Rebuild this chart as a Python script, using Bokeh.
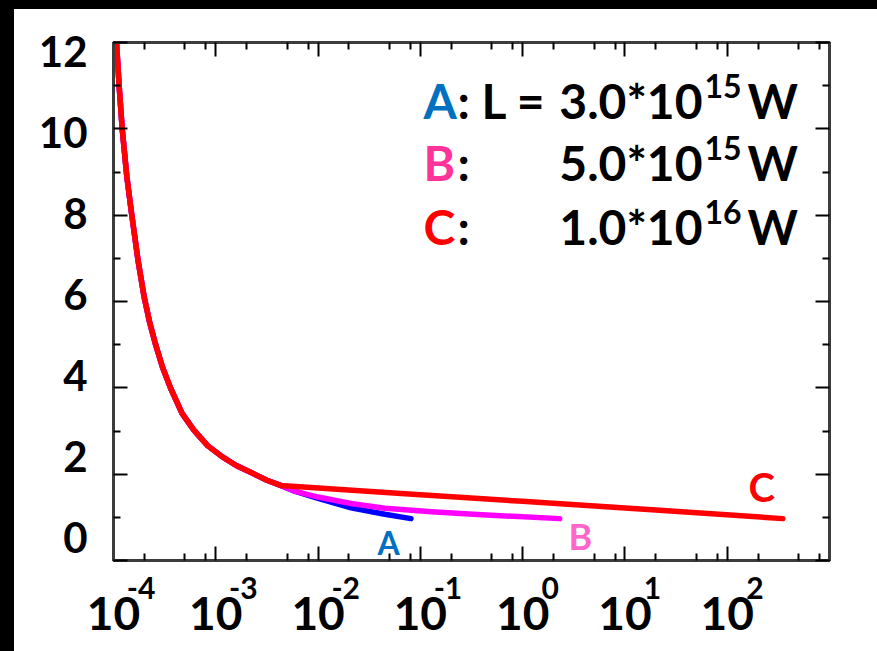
from bokeh.plotting import figure
from bokeh.models import (FixedTicker, LinearAxis, LogAxis, Label, Range1d, LogScale,
                          LinearScale, CustomJSTickFormatter)
from bokeh.embed import file_html
from bokeh.resources import INLINE

# ---- data ----
# common steep branch (all three cases coincide here)
base_x = [1.07e-4, 1.135e-4, 1.216e-4, 1.349e-4, 1.5e-4, 1.738e-4, 1.995e-4, 2.265e-4,
          2.582e-4, 3.02e-4, 3.62e-4, 4.68e-4, 6.1e-4, 8.32e-4, 1.16e-3, 1.585e-3,
          2.29e-3, 3.16e-3, 4.3e-3]
base_y = [12.0, 11.0, 10.0, 8.9, 8.05, 6.95, 6.1, 5.5,
          5.0, 4.47, 3.99, 3.41, 3.02, 2.66, 2.40, 2.2,
          2.02, 1.86, 1.74]

a_tail_x = [6e-3, 1.0e-2, 2.1e-2, 4.5e-2, 8.1e-2]
a_tail_y = [1.60, 1.44, 1.22, 1.07, 0.97]

b_tail_x = [6e-3, 1.0e-2, 2.1e-2, 4.5e-2, 1.29e-1, 4.0e-1, 2.3]
b_tail_y = [1.60, 1.47, 1.32, 1.21, 1.13, 1.06, 0.97]

c_tail_x = [6.5e-2, 1.0, 20.0, 3.5e2]
c_tail_y = [1.55, 1.37, 1.17, 0.97]

series_names = ["A", "B", "C"]
series_colors = ["#0000FF", "#FF00FF", "#FF0000"]
label_colors = ["#0070C0", "#FF3399", "#FF0000"]
curve_label_colors = ["#0070C0", "#FF66CC", "#FF0000"]
legend_values = ["3.0*10", "5.0*10", "1.0*10"]
legend_exps = ["15", "15", "16"]

x_decades = [-4, -3, -2, -1, 0, 1, 2, 3]
x_labeled_decades = [-4, -3, -2, -1, 0, 1, 2]
x_base_labels = ["10", "10", "10", "10", "10", "10", "10"]
x_sup_labels = ["-4", "-3", "-2", "-1", "0", "1", "2"]
x_minor_mult = [2, 5, 8]
y_major = [0, 2, 4, 6, 8, 10, 12]
y_minor = [1, 3, 5, 7, 9, 11]
y_labels = ["0", "2", "4", "6", "8", "10", "12"]

xs = [base_x + a_tail_x, base_x + b_tail_x, base_x + c_tail_x]
ys = [base_y + a_tail_y, base_y + b_tail_y, base_y + c_tail_y]

FONT = "Lato"
AXIS_COLOR = "#3c3c3c"
SUP_SHIFT = 0.27          # decades: places exponent right of the "10"

p = figure(width=877, height=651, x_axis_type="log",
           x_axis_location=None, y_axis_location=None,
           x_range=Range1d(1e-4, 1e3), y_range=Range1d(0, 12),
           output_backend="svg", toolbar_location=None,
           min_border_left=113, min_border_right=48,
           min_border_top=42, min_border_bottom=91)
p.extra_x_ranges = {"sup": Range1d(1e-4 * 10 ** -SUP_SHIFT, 1e3 * 10 ** -SUP_SHIFT)}
p.extra_x_scales = {"sup": LogScale()}
p.extra_y_ranges = {"ylab": Range1d(-0.569, 12.223)}
p.extra_y_scales = {"ylab": LinearScale()}
p.grid.visible = False
p.outline_line_color = AXIS_COLOR
p.outline_line_width = 3
p.background_fill_color = "white"
# transparent border area so the host's background (with the dark top/left edges
# of the original picture) shows through
p.border_fill_color = None
p.styles = {"background-color": "white", "box-shadow": "inset 14px 9px 0 0 black"}

x_major = [10.0 ** d for d in x_decades]
x_minor = [m * 10.0 ** d for d in x_decades[:-1] for m in x_minor_mult]


def tick_axis(ax):
    ax.axis_line_color = AXIS_COLOR
    ax.axis_line_width = 3
    ax.major_tick_line_color = "black"
    ax.minor_tick_line_color = "black"
    ax.major_tick_line_width = 2
    ax.minor_tick_line_width = 2
    ax.major_tick_in = 14
    ax.major_tick_out = 0
    ax.minor_tick_in = 7
    ax.minor_tick_out = 0


def label_only_axis(ax):
    ax.axis_line_color = None
    ax.major_tick_line_color = None
    ax.minor_tick_line_color = None
    ax.major_tick_in = 0
    ax.major_tick_out = 0
    ax.minor_tick_in = 0
    ax.minor_tick_out = 0


def list_formatter(log):
    code = ("const d = Math.round(Math.log10(tick));" if log else "const d = Math.round(tick);") + \
           "const i = ks.indexOf(d); return i < 0 ? '' : labs[i];"
    return code


blank = CustomJSTickFormatter(code="return '';")

# bottom: ticks + "10" labels
xb = LogAxis(ticker=FixedTicker(ticks=x_major, minor_ticks=x_minor),
             formatter=CustomJSTickFormatter(args=dict(ks=x_labeled_decades, labs=x_base_labels),
                                             code=list_formatter(True)))
tick_axis(xb)
xb.major_label_text_font = FONT
xb.major_label_text_font_style = "bold"
xb.major_label_text_font_size = "46px"
xb.major_label_text_color = "black"
xb.major_label_standoff = 36
p.add_layout(xb, "below")

# bottom: exponents (label-only axis on a shifted copy of the x range)
xs_ax = LogAxis(x_range_name="sup", ticker=FixedTicker(ticks=x_major[:-1], minor_ticks=[]),
                formatter=CustomJSTickFormatter(args=dict(ks=x_labeled_decades, labs=x_sup_labels),
                                                code=list_formatter(True)))
label_only_axis(xs_ax)
xs_ax.major_label_text_font = FONT
xs_ax.major_label_text_font_style = "bold"
xs_ax.major_label_text_font_size = "30px"
xs_ax.major_label_text_color = "black"
xs_ax.major_label_text_align = "left"
xs_ax.major_label_standoff = -56
p.add_layout(xs_ax, "below")

# left: ticks only
yl = LinearAxis(ticker=FixedTicker(ticks=y_major, minor_ticks=y_minor), formatter=blank)
tick_axis(yl)
yl.major_label_standoff = 0
p.add_layout(yl, "left")

# left: labels
ylab = LinearAxis(y_range_name="ylab", ticker=FixedTicker(ticks=y_major, minor_ticks=[]),
                  formatter=CustomJSTickFormatter(args=dict(ks=y_major, labs=y_labels),
                                                  code=list_formatter(False)))
label_only_axis(ylab)
ylab.major_label_text_font = FONT
ylab.major_label_text_font_style = "bold"
ylab.major_label_text_font_size = "42px"
ylab.major_label_text_color = "black"
ylab.major_label_standoff = 26
p.add_layout(ylab, "left")

# top and right mirror axes
top = LogAxis(ticker=FixedTicker(ticks=x_major, minor_ticks=x_minor), formatter=blank)
tick_axis(top)
top.major_label_standoff = 0
p.add_layout(top, "above")
right = LinearAxis(ticker=FixedTicker(ticks=y_major, minor_ticks=y_minor), formatter=blank)
tick_axis(right)
right.major_label_standoff = 0
p.add_layout(right, "right")

# curves
for x, y, c in zip(xs, ys, series_colors):
    p.line(x, y, line_color=c, line_width=5.5, line_join="round", line_cap="round")

# legend text (screen units relative to the frame)
leg_y = [460, 398, 334]
for i in range(3):
    yb = leg_y[i]
    common = dict(x_units="screen", y_units="screen", text_font=FONT,
                  text_font_style="bold", text_baseline="alphabetic")
    p.add_layout(Label(x=310, y=yb, text=series_names[i], text_font_size="48px",
                       text_color=label_colors[i], **common))
    p.add_layout(Label(x=344, y=yb, text=": L =" if i == 0 else ":", text_font_size="48px",
                       text_color="black", **common))
    p.add_layout(Label(x=589, y=yb, text=legend_values[i], text_font_size="48px",
                       text_color="black", text_align="right", **common))
    p.add_layout(Label(x=591, y=yb + 15, text=legend_exps[i], text_font_size="32px",
                       text_color="black", **common))
    p.add_layout(Label(x=634, y=yb, text="W", text_font_size="48px",
                       text_color="black", **common))

# curve end labels
curve_lab_pos = [(264, 18, "32px"), (455, 25, "36px"), (635, 74, "40px")]
for (sx, sy, fs), name, col in zip(curve_lab_pos, series_names, curve_label_colors):
    p.add_layout(Label(x=sx, y=sy, x_units="screen", y_units="screen",
                       text=name, text_font=FONT, text_font_style="bold",
                       text_font_size=fs, text_color=col, text_baseline="alphabetic"))

open("out.html", "w").write(file_html(p, INLINE))
